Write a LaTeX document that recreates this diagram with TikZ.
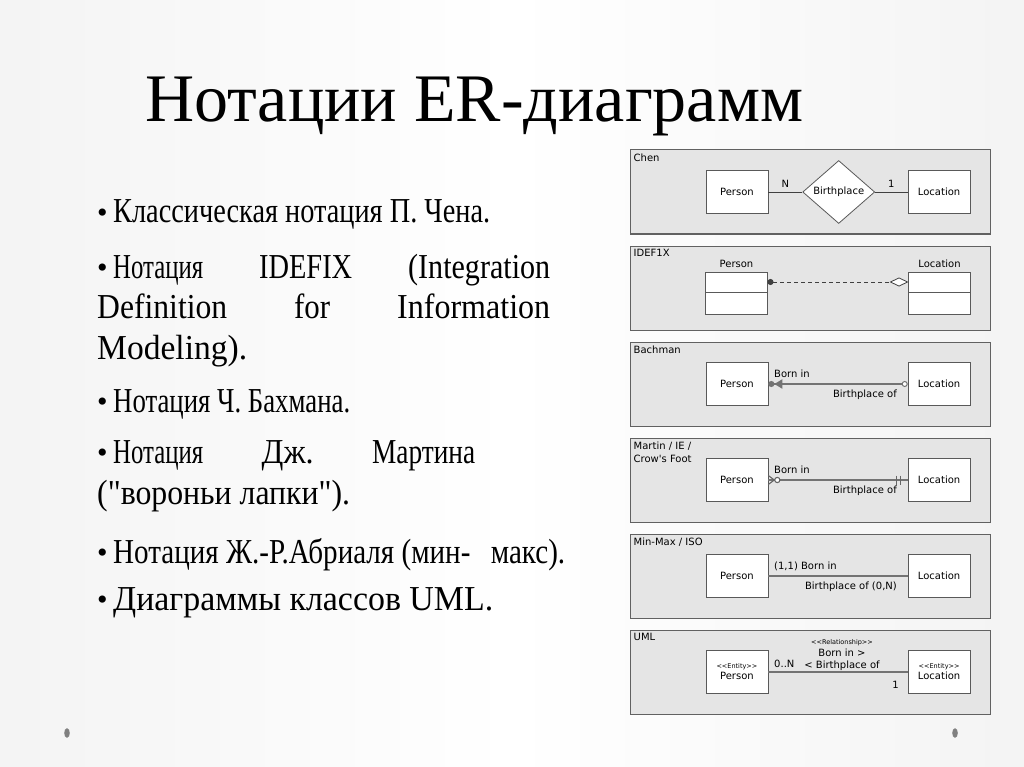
\documentclass[tikz,border=0pt]{standalone}
\usepackage{fontspec}
\usepackage{graphicx}
\setmainfont{Liberation Serif}[Ligatures=TeXOff]
\newfontfamily\panelfont{DejaVu Sans}
\usetikzlibrary{arrows.meta,positioning,shapes.geometric}

\pgfdeclarehorizontalshading{slidebg}{100bp}{color(0bp)=(black!16); color(22bp)=(black!5); color(50bp)=(white); color(78bp)=(black!5); color(100bp)=(black!16)}
\newcommand\fitto[2]{\resizebox{#1}{\height}{#2}}
\newcommand\bul{\makebox[16pt][l]{\fontsize{30}{30}\selectfont\raisebox{0.5pt}{•}}}
\newcommand\stereo[1]{{\fontsize{6.5}{7}\selectfont<{}<#1>{}>}}

\begin{document}
\begin{tikzpicture}[
  x=1pt, y=-1pt,
  font=\panelfont\fontsize{10}{13}\selectfont,
  panel/.style={draw=black!62,line width=1pt,fill=black!10,
    minimum width=360pt,minimum height=84pt,inner sep=0pt},
  entity/.style={draw=black!65,line width=.8pt,fill=white,
    minimum width=62pt,minimum height=43pt,inner sep=1pt,align=center},
  compart/.style={draw=black!65,line width=.8pt,fill=white,
    minimum width=62pt,inner sep=0pt,outer sep=0pt},
  relship/.style={diamond,draw=black!65,line width=.8pt,fill=white,
    minimum width=72pt,minimum height=63pt,inner sep=0pt},
  tag/.style={anchor=north west,inner sep=1pt,align=left},
  link/.style={draw=black!75,line width=.8pt},
  heavy/.style={draw=black!55,line width=1.8pt},
  marker/.style={draw=black!60,line width=1.1pt},
  toplabel/.style={anchor=base west,inner sep=0pt,xshift=5pt,yshift=7pt},
  botlabel/.style={anchor=base east,inner sep=0pt,xshift=-10pt,yshift=-13.5pt},
  bodyline/.style={anchor=base west,inner sep=0pt,
    font=\rmfamily\fontsize{35}{40}\selectfont}
]
  \shade[shading=slidebg] (0,0) rectangle (1024,767);

  \node[anchor=base west,inner sep=0pt,font=\rmfamily\fontsize{68}{72}\selectfont]
    (title) at (145,122) {Нотации ER-диаграмм};

  \node[bodyline] (l1) at (97,223) {\bul\fitto{377pt}{Классическая нотация П. Чена.}};
  \node[bodyline] (l2) at (97,278) {\bul\makebox[437pt]{\fitto{90pt}{Нотация}\hfill
    \fitto{93pt}{IDEFIX}\hfill\fitto{142pt}{(Integration}}};
  \node[bodyline] (l3) at (97,318) {\makebox[453pt]{\fitto{130pt}{Definition}\hfill
    \fitto{36pt}{for}\hfill\fitto{153pt}{Information}}};
  \node[bodyline] (l4) at (97,359) {\fitto{150pt}{Modeling).}};
  \node[bodyline] (l5) at (97,412) {\bul\fitto{237pt}{Нотация Ч. Бахмана.}};
  \node[bodyline] (l6) at (97,463) {\bul\makebox[362pt]{\fitto{90pt}{Нотация}\hfill
    \fitto{52pt}{Дж.}\hfill\fitto{103pt}{Мартина}}};
  \node[bodyline] (l7) at (97,504) {\fitto{253pt}{("вороньи лапки").}};
  \node[bodyline] (l8) at (97,563) {\bul\fitto{452pt}{Нотация Ж.-Р.Абриаля (мин-\hspace{0.7em}макс).}};
  \node[bodyline] (l9) at (97,610) {\bul\fitto{380pt}{Диаграммы классов UML.}};

  \node[panel] (chen) at (810,192) {};
  \node[panel,below=11pt of chen] (idef) {};
  \node[panel,below=11pt of idef] (bach) {};
  \node[panel,below=11pt of bach] (mart) {};
  \node[panel,below=11pt of mart] (mmax) {};
  \node[panel,below=11pt of mmax] (uml) {};

  \node[tag] (chenT) at ([shift={(3pt,-3pt)}]chen.north west) {Chen};
  \node[tag] (idefT) at ([shift={(3pt,-3pt)}]idef.north west) {IDEF1X};
  \node[tag] (bachT) at ([shift={(3pt,-3pt)}]bach.north west) {Bachman};
  \node[tag] (martT) at ([shift={(3pt,-3pt)}]mart.north west) {Martin / IE /\\Crow's Foot};
  \node[tag] (mmaxT) at ([shift={(3pt,-3pt)}]mmax.north west) {Min-Max / ISO};
  \node[tag] (umlT) at ([shift={(3pt,-3pt)}]uml.north west) {UML};

  \node[entity,right=76pt of chen.west] (chenP) {Person};
  \node[relship,right=34pt of chenP] (chenR) {Birthplace};
  \node[entity,left=20pt of chen.east] (chenL) {Location};
  \draw[link] (chenP) -- node[above=1pt] (chenN) {N} (chenR);
  \draw[link] (chenR) -- node[above=1pt] (chenOne) {1} (chenL);

  \node[compart,minimum height=20pt,right=76pt of idef.west,yshift=6pt] (idPt) {};
  \node[compart,minimum height=22pt,below=0pt of idPt] (idPb) {};
  \node[compart,minimum height=20pt,left=20pt of idef.east,yshift=6pt] (idLt) {};
  \node[compart,minimum height=22pt,below=0pt of idLt] (idLb) {};
  \node[above=1pt of idPt] (idPn) {Person};
  \node[above=1pt of idLt] (idLn) {Location};
  \draw[link,dash pattern=on 4pt off 3pt,
    {Circle[length=6pt]}-{Diamond[fill=white,length=19pt,width=9pt]}] (idPt) -- (idLt);

  \node[entity,right=76pt of bach.west] (bmP) {Person};
  \node[entity,left=20pt of bach.east] (bmL) {Location};
  \draw[heavy,{Circle[length=6pt]Triangle[length=8pt,width=9pt]}-{Circle[fill=white,length=6pt,line width=1pt]}]
    (bmP) -- (bmL)
    node[toplabel,pos=0] (bmBorn) {Born in}
    node[botlabel,pos=1] (bmBirth) {Birthplace of};

  \node[entity,right=76pt of mart.west] (mtP) {Person};
  \node[entity,left=20pt of mart.east] (mtL) {Location};
  \draw[heavy] (mtP) -- (mtL)
    node[toplabel,pos=0] (mtBorn) {Born in}
    node[botlabel,pos=1] (mtBirth) {Birthplace of};
  \draw[marker] ([yshift=4.5pt]mtP.east) -- ([xshift=6pt]mtP.east) -- ([yshift=-4.5pt]mtP.east);
  \draw[marker,fill=white] ([xshift=9pt]mtP.east) circle (2.6pt);
  \draw[marker,line width=1.4pt] ([shift={(-11pt,4.5pt)}]mtL.west) -- ([shift={(-11pt,-4.5pt)}]mtL.west)
    ([shift={(-7.5pt,4.5pt)}]mtL.west) -- ([shift={(-7.5pt,-4.5pt)}]mtL.west);

  \node[entity,right=76pt of mmax.west] (mmP) {Person};
  \node[entity,left=20pt of mmax.east] (mmL) {Location};
  \draw[heavy] (mmP) -- (mmL)
    node[toplabel,pos=0] (mmBorn) {(1,1) Born in}
    node[botlabel,pos=1] (mmBirth) {Birthplace of (0,N)};

  \node[entity,right=76pt of uml.west] (umP) {\stereo{Entity}\\[-2pt]Person};
  \node[entity,left=20pt of uml.east] (umL) {\stereo{Entity}\\[-2pt]Location};
  \draw[heavy] (umP) -- (umL)
    node[toplabel,pos=0,yshift=-2pt] (umMany) {0..N}
    node[botlabel,pos=1,xshift=2pt,yshift=-2.5pt] (umOne) {1}
    node[anchor=base,inner sep=0pt,pos=.5,xshift=4pt,yshift=4pt] (umBirth) {< Birthplace of};
  \node[anchor=base,inner sep=0pt] (umBorn) at ([yshift=12pt]umBirth.base) {Born in >};
  \node[anchor=base,inner sep=0pt] (umRel) at ([yshift=12pt]umBorn.base) {\stereo{Relationship}};

  \fill[black!50] (67,733) ellipse (2.8pt and 4.8pt);
  \fill[black!50] (955,733) ellipse (2.8pt and 4.8pt);
\end{tikzpicture}
\end{document}
